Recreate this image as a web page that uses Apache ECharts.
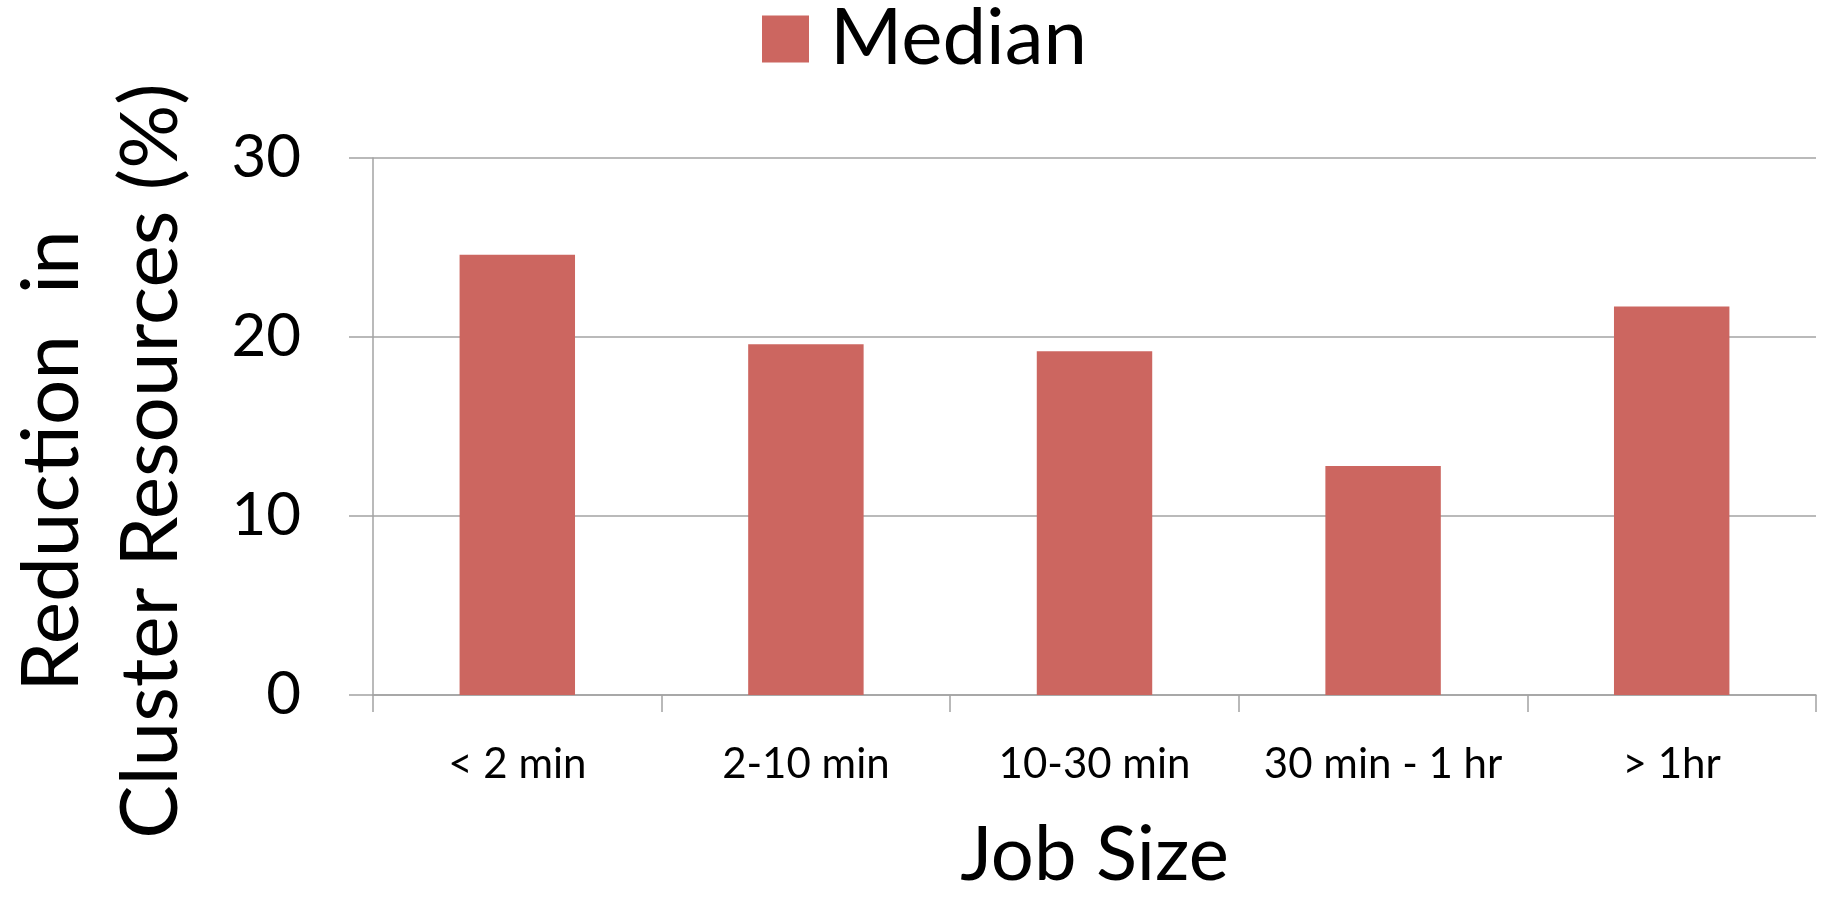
<!DOCTYPE html>
<html>
<head>
<meta charset="utf-8">
<script src="https://cdn.jsdelivr.net/npm/echarts@6/dist/echarts.min.js"></script>
<style>
    html, body { margin: 0; padding: 0; background: #fff; }
    #chart { width: 1829px; height: 898px; }
</style>
</head>
<body>
<div id="chart"></div>
<script>
// chart data
const jobSizes = ['< 2 min', '2-10 min', '10-30 min', '30 min - 1 hr', '> 1hr']
const medianReduction = [24.6, 19.6, 19.2, 12.8, 21.7]
const yTicks = [0, 10, 20, 30]

const axisGray = '#a3a3a3'
const barColor = '#cc6660'
const fontFamily = 'Lato, "Open Sans", sans-serif'

const chart = echarts.init(document.getElementById('chart'))

chart.setOption({
    animation: false,
    textStyle: { fontFamily: fontFamily, color: '#000' },
    legend: {
        data: ['Median'],
        left: 757,
        top: -5,
        icon: 'rect',
        itemWidth: 47,
        itemHeight: 47,
        textStyle: {
            fontSize: 78,
            lineHeight: 50,
            color: '#000',
            padding: [0, 0, 0, 16]
        }
    },
    grid: {
        left: 373,
        right: 13,
        top: 158,
        bottom: 197
    },
    xAxis: {
        type: 'category',
        data: jobSizes,
        name: 'Job Size',
        nameLocation: 'middle',
        nameGap: 122,
        nameTextStyle: { fontSize: 76, color: '#000' },
        axisLine: { lineStyle: { color: axisGray, width: 1.5 } },
        axisTick: { show: true, interval: 0, length: 17, lineStyle: { color: axisGray, width: 1.5 } },
        axisLabel: { interval: 0, fontSize: 42, color: '#000', margin: 48 }
    },
    yAxis: {
        type: 'value',
        min: yTicks[0],
        max: yTicks[yTicks.length - 1],
        interval: 10,
        axisLine: { show: true, lineStyle: { color: axisGray, width: 1.5 } },
        axisTick: { show: true, length: 24, lineStyle: { color: axisGray, width: 1.5 } },
        splitLine: { show: true, lineStyle: { color: axisGray, width: 1.5 } },
        axisLabel: { fontSize: 60, color: '#000', margin: 72 }
    },
    graphic: [{
        type: 'text',
        x: 102,
        y: 461,
        rotation: Math.PI / 2,
        style: {
            text: 'Reduction  in\nCluster Resources (%)',
            fontSize: 80,
            lineHeight: 99,
            fontFamily: fontFamily,
            fill: '#000',
            align: 'center',
            verticalAlign: 'middle'
        }
    }],
    series: [{
        name: 'Median',
        type: 'bar',
        data: medianReduction,
        barWidth: '40%',
        itemStyle: { color: barColor }
    }]
})
</script>
</body>
</html>
